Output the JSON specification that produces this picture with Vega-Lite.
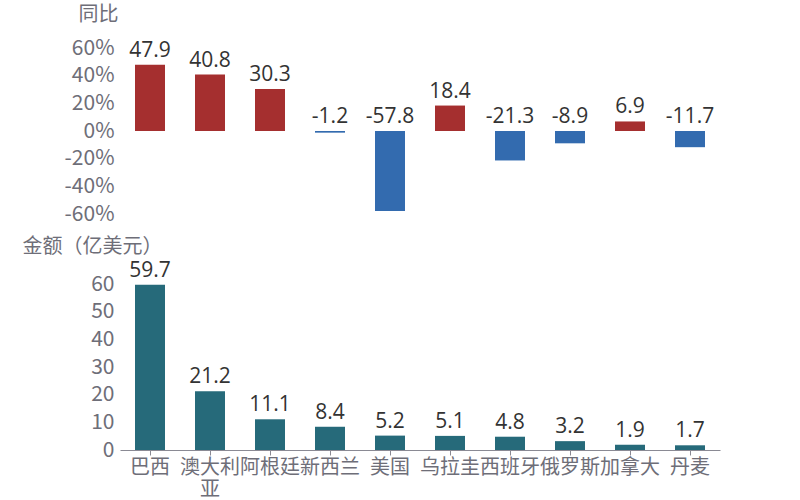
{
  "$schema": "https://vega.github.io/schema/vega-lite/v6.json",
  "padding": {"left": 22, "top": 4, "right": 10, "bottom": 5},
  "spacing": 12,
  "config": {
    "view": {"stroke": null},
    "font": "Noto Sans CJK SC",
    "axis": {"labelColor": "#6e6e78", "titleColor": "#6e6e78", "labelFontSize": 21, "titleFontSize": 20, "titleFontWeight": "normal", "grid": false, "labelFont": "Noto Sans CJK SC", "titleFont": "Noto Sans CJK SC", "labelOverlap": false}
  },
  "data": {
    "values": [
      {"country": "巴西", "yoy": 47.9, "amount": 59.7},
      {"country": "澳大利亚", "yoy": 40.8, "amount": 21.2},
      {"country": "阿根廷", "yoy": 30.3, "amount": 11.1},
      {"country": "新西兰", "yoy": -1.2, "amount": 8.4},
      {"country": "美国", "yoy": -57.8, "amount": 5.2},
      {"country": "乌拉圭", "yoy": 18.4, "amount": 5.1},
      {"country": "西班牙", "yoy": -21.3, "amount": 4.8},
      {"country": "俄罗斯", "yoy": -8.9, "amount": 3.2},
      {"country": "加拿大", "yoy": 6.9, "amount": 1.9},
      {"country": "丹麦", "yoy": -11.7, "amount": 1.7}
    ]
  },
  "vconcat": [
    {
      "width": 600,
      "height": 166,
      "encoding": {
        "x": {"field": "country", "type": "nominal", "sort": null, "axis": null, "scale": {"paddingInner": 0.5, "paddingOuter": 0.25}}
      },
      "layer": [
        {
          "mark": {"type": "bar", "size": 30},
          "encoding": {
            "y": {"field": "yoy", "type": "quantitative", "scale": {"domain": [-60, 60]},
              "axis": {"values": [-60, -40, -20, 0, 20, 40, 60], "labelExpr": "datum.value + '%'", "domain": false, "ticks": false, "labelPadding": 6, "labelOverlap": false,
                "title": "同比", "titleAngle": 0, "titleAlign": "left", "titleBaseline": "middle", "titleX": -42, "titleY": -34}},
            "color": {"condition": {"test": "datum.yoy >= 0", "value": "#a52f2f"}, "value": "#336baf"}
          }
        },
        {
          "transform": [{"filter": "datum.yoy >= 0"}],
          "mark": {"type": "text", "baseline": "bottom", "dy": -4, "fontSize": 21, "color": "#333333", "font": "Open Sans"},
          "encoding": {
            "y": {"field": "yoy", "type": "quantitative",
              "axis": {"values": [-60, -40, -20, 0, 20, 40, 60], "labelExpr": "datum.value + '%'", "domain": false, "ticks": false, "labelPadding": 6, "labelOverlap": false,
                "title": "同比", "titleAngle": 0, "titleAlign": "left", "titleBaseline": "middle", "titleX": -42, "titleY": -34}},
            "text": {"field": "yoy", "type": "nominal"}
          }
        },
        {
          "transform": [{"filter": "datum.yoy < 0"}],
          "mark": {"type": "text", "baseline": "bottom", "dy": -4, "fontSize": 21, "color": "#333333", "font": "Open Sans"},
          "encoding": {
            "y": {"datum": 0, "type": "quantitative",
              "axis": {"values": [-60, -40, -20, 0, 20, 40, 60], "labelExpr": "datum.value + '%'", "domain": false, "ticks": false, "labelPadding": 6, "labelOverlap": false,
                "title": "同比", "titleAngle": 0, "titleAlign": "left", "titleBaseline": "middle", "titleX": -42, "titleY": -34}},
            "text": {"field": "yoy", "type": "nominal"}
          }
        }
      ]
    },
    {
      "width": 600,
      "height": 166,
      "encoding": {
        "x": {"field": "country", "type": "nominal", "sort": null, "scale": {"paddingInner": 0.5, "paddingOuter": 0.25},
          "axis": {"title": null, "labelAngle": 0, "labelFontSize": 20, "labelExpr": "datum.value == '澳大利亚' ? ['澳大利', '亚'] : datum.value", "domainColor": "#8a8a94", "tickColor": "#8a8a94", "tickSize": 5, "labelPadding": 2, "labelLineHeight": 22, "labelLimit": 0, "labelOverlap": false}},
        "y": {"field": "amount", "type": "quantitative", "scale": {"domain": [0, 60]},
          "axis": {"values": [0, 10, 20, 30, 40, 50, 60], "domain": false, "ticks": false, "labelPadding": 6, "labelOverlap": false,
            "title": "金额（亿美元）", "titleAngle": 0, "titleAlign": "left", "titleBaseline": "middle", "titleX": -98, "titleY": -38}}
      },
      "layer": [
        {
          "mark": {"type": "bar", "size": 30, "color": "#266a7a"}
        },
        {
          "mark": {"type": "text", "baseline": "bottom", "dy": -4, "fontSize": 21, "color": "#333333", "font": "Open Sans"},
          "encoding": {
            "text": {"field": "amount", "type": "quantitative", "format": ".1f"}
          }
        }
      ]
    }
  ]
}
